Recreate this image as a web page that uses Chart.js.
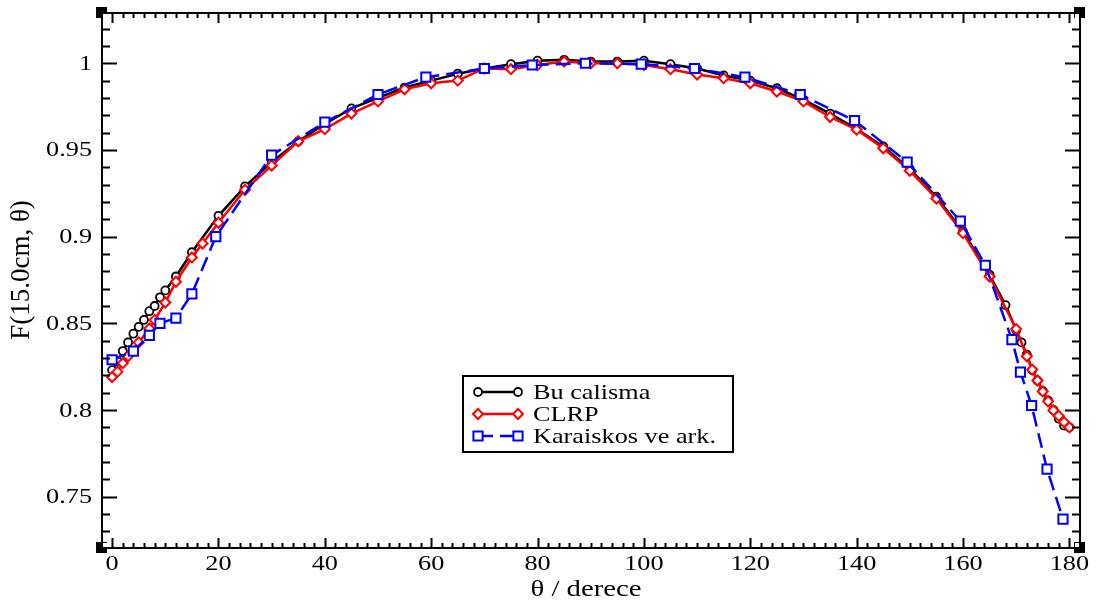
<!DOCTYPE html>
<html><head><meta charset="utf-8">
<script src="https://cdn.jsdelivr.net/npm/chart.js@4.4.0/dist/chart.umd.min.js"></script>
<style>html,body{margin:0;padding:0;background:#fff;overflow:hidden}#wrap{width:1099px;height:605px}</style>
</head><body><div id="wrap"><canvas id="c" width="1099" height="605"></canvas></div>
<script>
// ---- data ----
const blackAngles = [0,1,2,3,4,5,6,7,8,9,10,12,15,20,25,30,35,40,45,50,55,60,65,70,75,80,85,90,95,100,105,110,115,120,125,130,135,140,145,150,155,160,165,168,170,171,172,173,174,175,176,177,178,179,180];
const blackValues = [0.823,0.828,0.834,0.839,0.844,0.848,0.852,0.857,0.860,0.865,0.869,0.877,0.891,0.912,0.929,0.943,0.955,0.965,0.974,0.980,0.986,0.990,0.994,0.997,0.9995,1.0015,1.002,1.001,1.001,1.0015,0.9995,0.997,0.993,0.990,0.9856,0.979,0.971,0.962,0.952,0.939,0.923,0.903,0.878,0.8605,0.846,0.839,0.832,0.823,0.817,0.811,0.8055,0.800,0.795,0.791,0.790];
const redAngles = [0,1,2,3,5,7,8,10,12,15,17,20,25,30,35,40,45,50,55,60,65,70,75,80,85,90,95,100,105,110,115,120,125,130,135,140,145,150,155,160,165,170,172,173,174,175,176,177,178,179,180];
const redValues = [0.819,0.822,0.827,0.831,0.839,0.847,0.852,0.862,0.874,0.888,0.896,0.908,0.927,0.941,0.955,0.962,0.971,0.978,0.985,0.9885,0.990,0.997,0.9966,0.999,1.001,1.000,1.000,0.999,0.9966,0.9935,0.9914,0.9885,0.9837,0.978,0.969,0.9617,0.951,0.938,0.922,0.902,0.877,0.8467,0.831,0.8233,0.817,0.8107,0.805,0.7998,0.7966,0.793,0.790];
const blueAngles = [0,4,7,9,12,15,19.5,30,40,50,59,70,79,89,99.5,109.5,119,129.4,139.6,149.5,159.5,164.2,169.2,170.8,172.9,175.8,178.8];
const blueValues = [0.829,0.834,0.843,0.850,0.853,0.867,0.900,0.947,0.966,0.982,0.992,0.997,0.999,1.000,0.9995,0.997,0.992,0.982,0.967,0.943,0.909,0.8835,0.8406,0.8218,0.8026,0.7659,0.7371];
const seriesLabels = ['Bu calisma','CLRP','Karaiskos ve ark.'];
const xTickLabels = [0,20,40,60,80,100,120,140,160,180];
const yTickLabels = [0.75,0.8,0.85,0.9,0.95,1];
const xTitle = 'θ / derece';
const yTitle = 'F(15.0cm, θ)';

const toXY = (xs, ys) => xs.map((x, i) => ({x: x, y: ys[i]}));
const FONT = '21px "Liberation Serif", "Times New Roman", serif';
const TITLE_FONT = '23px "Liberation Serif", "Times New Roman", serif';
const YTITLE_FONT = '27px "Liberation Serif", "Times New Roman", serif';
const SX = 1.25;

function sText(ctx, t, x, y, align, base) {
  ctx.save();
  ctx.translate(x, y);
  ctx.scale(SX, 1);
  ctx.textAlign = align; ctx.textBaseline = base;
  ctx.fillText(t, 0, 0);
  ctx.restore();
}

const decor = {
  id: 'decor',
  afterDatasetsDraw(chart) {
    const ctx = chart.ctx;
    const xs = chart.scales.x, ys = chart.scales.y;
    const a = chart.chartArea;
    ctx.save();
    ctx.strokeStyle = '#000'; ctx.fillStyle = '#000';
    ctx.lineWidth = 2;
    ctx.strokeRect(a.left, a.top, a.right - a.left, a.bottom - a.top);
    ctx.beginPath();
    for (let v = 0; v <= 180; v += 2) {
      const px = Math.round(xs.getPixelForValue(v)) + 0.5;
      const major = xTickLabels.includes(v);
      const L = major ? 10 : 5;
      ctx.moveTo(px, a.bottom); ctx.lineTo(px, a.bottom - L);
      ctx.moveTo(px, a.top); ctx.lineTo(px, a.top + L);
    }
    for (let k = 73; k <= 102; k++) {
      const v = k / 100;
      const py = Math.round(ys.getPixelForValue(v)) + 0.5;
      const major = (k % 5 === 0);
      const L = major ? 15 : 8;
      ctx.moveTo(a.left, py); ctx.lineTo(a.left + L, py);
      ctx.moveTo(a.right, py); ctx.lineTo(a.right - L, py);
    }
    ctx.stroke();
    ctx.font = FONT;
    xTickLabels.forEach(v => sText(ctx, String(v), xs.getPixelForValue(v), 570, 'center', 'alphabetic'));
    yTickLabels.forEach(v => sText(ctx, String(+v.toFixed(2)), 92, ys.getPixelForValue(v) + 1, 'right', 'middle'));
    ctx.font = TITLE_FONT;
    sText(ctx, xTitle, 586, 596, 'center', 'alphabetic');
    ctx.save();
    ctx.font = YTITLE_FONT;
    ctx.translate(22, 270);
    ctx.rotate(-Math.PI / 2);
    ctx.scale(1, 1.05);
    ctx.textAlign = 'center'; ctx.textBaseline = 'middle';
    ctx.fillText(yTitle, 0, 0);
    ctx.restore();
    const corners = [[a.left, a.top, 1, 1], [a.right, a.top, -1, 1], [a.left, a.bottom, 1, -1], [a.right, a.bottom, -1, -1]];
    corners.forEach(([cx, cy, dx, dy]) => {
      ctx.fillStyle = '#000';
      ctx.fillRect(cx - 6, cy - 6, 11, 11);
      ctx.fillStyle = '#fff';
      ctx.fillRect(dx > 0 ? cx + 1 : cx - 5, dy > 0 ? cy + 1 : cy - 5, 4, 4);
    });
    ctx.fillStyle = '#fff';
    ctx.fillRect(463, 376, 270, 76);
    ctx.lineWidth = 2; ctx.strokeStyle = '#000';
    ctx.strokeRect(463, 376, 270, 76);
    const rows = [392, 414, 436];
    chart.data.datasets.forEach((ds, i) => {
      const y = rows[i];
      ctx.save();
      ctx.strokeStyle = ds.borderColor; ctx.lineWidth = ds.borderWidth;
      ctx.setLineDash(ds.borderDash || []);
      ctx.beginPath(); ctx.moveTo(478, y); ctx.lineTo(518, y); ctx.stroke();
      ctx.setLineDash([]);
      [478, 518].forEach(px => {
        ctx.fillStyle = '#fff'; ctx.strokeStyle = ds.pointBorderColor; ctx.lineWidth = ds.pointBorderWidth;
        Chart.helpers.drawPoint(ctx, {pointStyle: ds.pointStyle, radius: ds.pointRadius, borderWidth: ds.pointBorderWidth, rotation: 0}, px, y);
      });
      ctx.restore();
      ctx.fillStyle = '#000'; ctx.font = FONT;
      sText(ctx, ds.label, 533, y + 1, 'left', 'middle');
    });
    ctx.restore();
  }
};

new Chart(document.getElementById('c'), {
  type: 'line',
  data: {
    datasets: [
      {label: seriesLabels[0], data: toXY(blackAngles, blackValues), borderColor: '#000', borderWidth: 2.5,
       pointStyle: 'circle', pointRadius: 4, pointBorderWidth: 1.8, pointBorderColor: '#000', pointBackgroundColor: '#fff', order: 3},
      {label: seriesLabels[1], data: toXY(redAngles, redValues), borderColor: '#ff0000', borderWidth: 2.5,
       pointStyle: 'rectRot', pointRadius: 5, pointBorderWidth: 2, pointBorderColor: '#ff0000', pointBackgroundColor: '#fff', order: 2},
      {label: seriesLabels[2], data: toXY(blueAngles, blueValues), borderColor: '#0000ff', borderWidth: 2.5, borderDash: [15, 7],
       pointStyle: 'rect', pointRadius: 6.5, pointBorderWidth: 2, pointBorderColor: '#0000ff', pointBackgroundColor: '#fff', order: 1}
    ]
  },
  options: {
    responsive: false, animation: false, devicePixelRatio: 1,
    layout: {padding: {left: 102, top: 13, right: 19, bottom: 57}},
    plugins: {legend: {display: false}, tooltip: {enabled: false}},
    elements: {line: {tension: 0, fill: false}},
    scales: {
      x: {type: 'linear', min: -1.9, max: 182, display: false},
      y: {type: 'linear', min: 0.7204, max: 1.029, display: false}
    }
  },
  plugins: [decor]
});
</script></body></html>
